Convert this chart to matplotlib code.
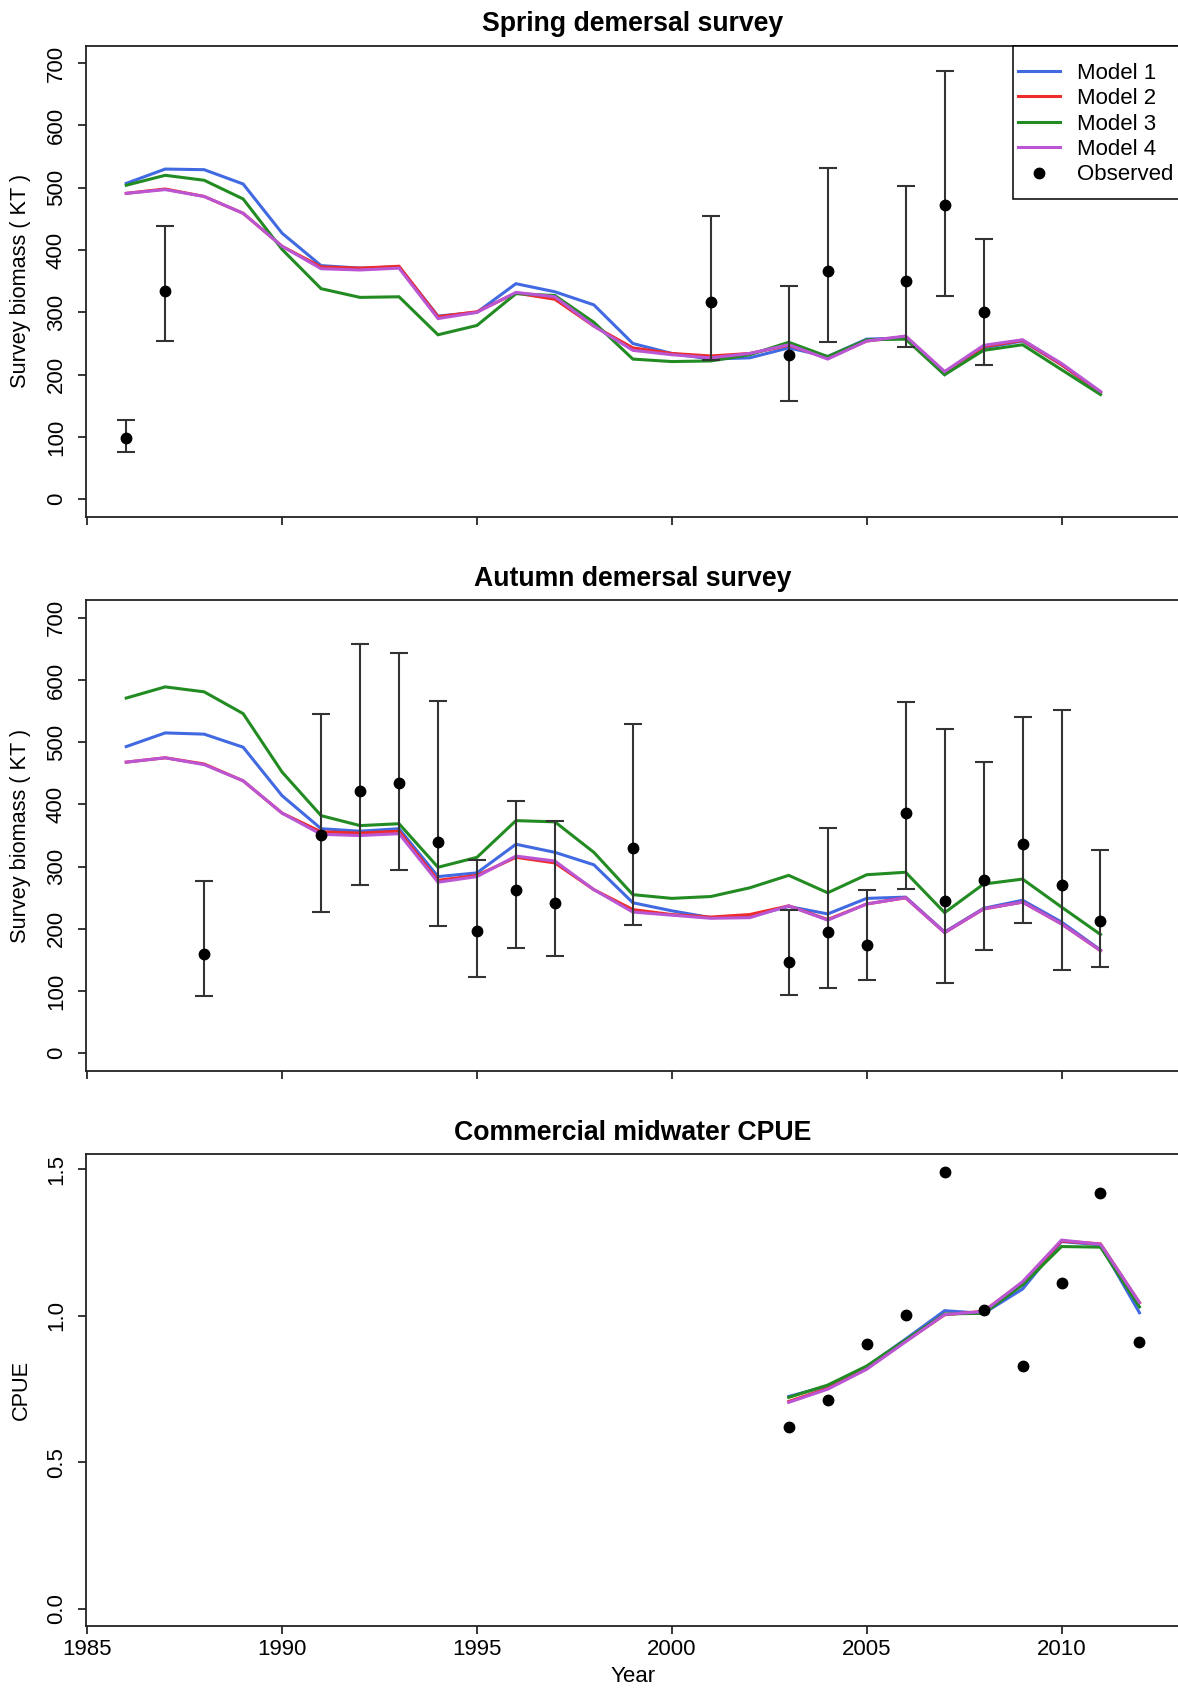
import numpy as np
import matplotlib
import matplotlib.pyplot as plt
from matplotlib.lines import Line2D
from matplotlib.patches import Rectangle
plt.switch_backend("agg")

plt.rcParams['font.family'] = ['Liberation Sans', 'DejaVu Sans']

# model years
years = list(range(1986, 2012))
cpue_years = list(range(2003, 2013))

# spring demersal survey
spring_m1 = [507, 530, 529, 506, 427, 375, 371, 373, 294, 300, 346, 333, 312, 250, 234, 225, 227, 243, 229, 257, 259, 200, 243, 254, 216, 171]
spring_m2 = [491, 498, 486, 459, 406, 373, 371, 374, 293, 301, 331, 321, 278, 243, 234, 230, 234, 247, 227, 254, 261, 204, 245, 255, 216, 172]
spring_m3 = [504, 520, 512, 482, 401, 338, 324, 325, 264, 279, 330, 327, 284, 225, 221, 222, 232, 252, 229, 256, 257, 200, 239, 248, 208, 168]
spring_m4 = [491, 497, 486, 459, 406, 370, 368, 371, 290, 300, 332, 325, 278, 239, 232, 227, 234, 248, 225, 254, 262, 205, 247, 256, 218, 173]
spring_obs_years = [1986, 1987, 2001, 2003, 2004, 2006, 2007, 2008]
spring_obs = [99, 334, 316, 232, 367, 351, 473, 300]
spring_lo = [76, 254, 223, 157, 253, 245, 326, 216]
spring_hi = [127, 438, 454, 342, 532, 503, 688, 417]

# autumn demersal survey
autumn_m1 = [493, 515, 513, 492, 414, 361, 357, 361, 284, 290, 336, 323, 303, 242, 229, 218, 220, 236, 224, 249, 251, 195, 233, 246, 211, 166]
autumn_m2 = [468, 475, 465, 438, 386, 356, 354, 357, 278, 286, 315, 306, 263, 231, 223, 219, 223, 237, 215, 240, 250, 194, 232, 243, 208, 165]
autumn_m3 = [571, 589, 581, 546, 452, 382, 366, 369, 299, 315, 374, 372, 323, 255, 249, 252, 266, 286, 258, 287, 291, 226, 272, 280, 235, 191]
autumn_m4 = [468, 475, 464, 438, 386, 352, 350, 353, 275, 284, 317, 309, 263, 227, 222, 217, 218, 237, 214, 240, 250, 194, 232, 243, 208, 165]
autumn_obs_years = [1988, 1991, 1992, 1993, 1994, 1995, 1996, 1997, 1999, 2003, 2004, 2005, 2006, 2007, 2008, 2009, 2010, 2011]
autumn_obs = [159, 351, 422, 435, 339, 196, 262, 241, 330, 146, 195, 174, 387, 244, 279, 336, 271, 213]
autumn_lo = [92, 227, 271, 294, 205, 123, 170, 156, 206, 93, 105, 117, 264, 113, 166, 210, 134, 139]
autumn_hi = [277, 545, 658, 644, 566, 310, 405, 373, 530, 231, 362, 263, 564, 521, 469, 540, 552, 326]

# commercial midwater CPUE
cpue_m1 = [0.724, 0.760, 0.826, 0.920, 1.017, 1.008, 1.091, 1.253, 1.242, 1.010]
cpue_m2 = [0.707, 0.752, 0.819, 0.913, 1.003, 1.015, 1.113, 1.255, 1.245, 1.044]
cpue_m3 = [0.721, 0.763, 0.828, 0.917, 1.006, 1.008, 1.105, 1.236, 1.234, 1.030]
cpue_m4 = [0.704, 0.749, 0.817, 0.911, 1.004, 1.014, 1.116, 1.258, 1.244, 1.045]
cpue_obs = [0.619, 0.711, 0.902, 1.001, 1.492, 1.021, 0.829, 1.111, 1.418, 0.909]

model_names = ["Model 1", "Model 2", "Model 3", "Model 4"]
colors = ["#4169E1", "#EE2C2C", "#228B22", "#BA55D3"]

W, H = 1178, 1688
fig = plt.figure(figsize=(W / 100, H / 100), dpi=100)

left = 85.7 / W
width = (1180 - 85.7) / W
panel_px = [(45.7, 516.7), (600.4, 1070.7), (1154.3, 1626.4)]
axes = []
for top, bot in panel_px:
    ax = fig.add_axes([left, 1 - bot / H, width, (bot - top) / H])
    axes.append(ax)

FS = 16
err_col = "#333333"


def style(ax, title, ylabel, ylim, yticks, ylabels, show_x):
    ax.set_xlim(1984.96, 2013.04)
    ax.set_ylim(*ylim)
    ax.set_xticks([1985, 1990, 1995, 2000, 2005, 2010])
    ax.set_yticks(yticks)
    ax.set_yticklabels(ylabels, rotation=90, va="center")
    if not show_x:
        ax.set_xticklabels([])
    ax.tick_params(direction="out", length=6, width=1.1, labelsize=FS, colors="black", pad=3)
    ax.tick_params(axis="y", pad=7.5)
    for s in ax.spines.values():
        s.set_linewidth(1.3)
        s.set_color("#222222")
    ax.text(0.5, 1 + 21.5 / 471, title, transform=ax.transAxes, ha="center", va="center",
            fontsize=19.2, fontweight="bold")
    ax.set_ylabel(ylabel, fontsize=15.7)
    ax.yaxis.set_label_coords((21 - 85.7) / 1094.3, 0.5)
    ax.yaxis.label.set_va("center")


def draw_models(ax, x, series):
    for vals, c, name in zip(series, colors, model_names):
        ax.plot(x, vals, color=c, lw=2.2, label=name, solid_joinstyle="miter")


def draw_obs(ax, x, y, lo, hi):
    y = np.array(y)
    yerr = [y - np.array(lo), np.array(hi) - y]
    ax.errorbar(x, y, yerr=yerr, fmt="none", ecolor=err_col, elinewidth=1.5,
                capsize=6.5, capthick=1.5)
    ax.plot(x, y, "o", color="black", markersize=7.5)


# panel 1
ax = axes[0]
draw_models(ax, years, [spring_m1, spring_m2, spring_m3, spring_m4])
draw_obs(ax, spring_obs_years, spring_obs, spring_lo, spring_hi)
style(ax, "Spring demersal survey", "Survey biomass ( KT )", (-28, 728),
      list(range(0, 701, 100)), [str(v) for v in range(0, 701, 100)], False)

# legend box (runs off the right edge like the original)
box = Rectangle((1012.5 / W, 1 - 199 / H), (1200 - 1012.5) / W, (199 - 46) / H,
                transform=fig.transFigure, facecolor="white", edgecolor="black",
                linewidth=1.1, clip_on=False, zorder=4)
ax.add_patch(box)
handles = [Line2D([], [], color=c, lw=2.2) for c in colors]
handles.append(Line2D([], [], marker="o", color="black", ls="none", markersize=7.5))
leg = ax.legend(handles, model_names + ["Observed"], loc="upper left",
                bbox_to_anchor=(1001.0 / W, 1 - 46 / H), bbox_transform=fig.transFigure,
                fontsize=FS, frameon=False, borderpad=0.75,
                labelspacing=0.2, handlelength=1.9, handletextpad=0.75,
                borderaxespad=0)
leg.set_zorder(5)

# panel 2
ax = axes[1]
draw_models(ax, years, [autumn_m1, autumn_m2, autumn_m3, autumn_m4])
draw_obs(ax, autumn_obs_years, autumn_obs, autumn_lo, autumn_hi)
style(ax, "Autumn demersal survey", "Survey biomass ( KT )", (-28, 728),
      list(range(0, 701, 100)), [str(v) for v in range(0, 701, 100)], False)

# panel 3
ax = axes[2]
draw_models(ax, cpue_years, [cpue_m1, cpue_m2, cpue_m3, cpue_m4])
ax.plot(cpue_years, cpue_obs, "o", color="black", markersize=7.5)
style(ax, "Commercial midwater CPUE", "CPUE", (-0.061, 1.551),
      [0.0, 0.5, 1.0, 1.5], ["0.0", "0.5", "1.0", "1.5"], True)
ax.text(0.5, -49.6 / 472, "Year", transform=ax.transAxes, ha="center", va="center",
        fontsize=FS)

plt.savefig("out.png", dpi=100)
